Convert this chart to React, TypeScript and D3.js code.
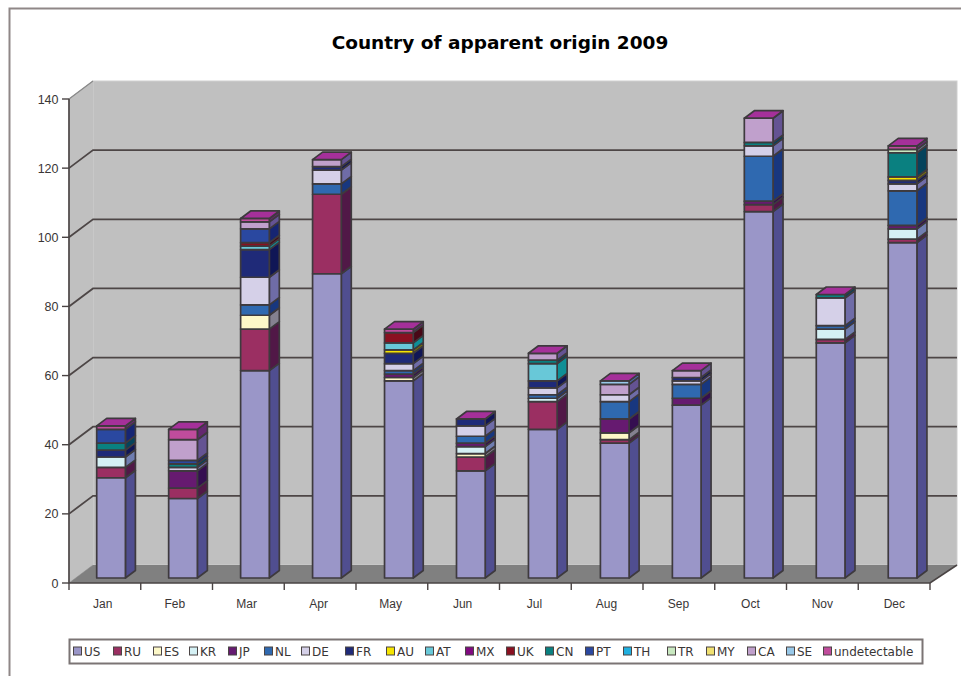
import React from "react";
import * as d3 from "d3";

const months = ["Jan","Feb","Mar","Apr","May","Jun","Jul","Aug","Sep","Oct","Nov","Dec"];
const seriesNames = ["US","RU","ES","KR","JP","NL","DE","FR","AU","AT","MX","UK","CN","PT","TH","TR","MY","CA","SE","undetectable"];

const US = [29,23,60,88,57,31,43,39,50,106,68,97];
const RU = [3,3,12,23,0,4,8,1,0,2,1,1];
const ES = [0,0,4,0,1,1,0,2,0,0,0,0];
const KR = [3,0,0,0,0,2,1,0,0,0,3,3];
const JP = [0,5,0,0,1,1,0,4,2,1,0,1];
const NL = [0,0,3,3,1,2,1,5,4,13,1,10];
const DE = [0,1,8,4,2,3,2,2,1,3,8,2];
const FR = [2,0,8,1,3,2,2,0,1,0,0,1];
const AU = [0,0,0,0,1,0,0,0,0,0,0,1];
const AT = [0,0,1,0,2,0,5,0,0,0,0,0];
const MX = [0,0,0,0,0,0,0,0,0,0,0,0];
const UK = [0,0,1,0,3,0,0,0,0,0,0,0];
const CN = [2,1,0,0,0,0,1,0,0,1,1,7];
const PT = [4,1,4,0,0,0,0,0,0,0,0,0];
const TH = [0,0,0,0,0,0,0,0,0,0,0,0];
const TR = [0,0,0,0,0,0,0,0,0,0,0,1];
const MY = [0,0,0,0,0,0,0,0,0,0,0,0];
const CA = [0,6,2,2,0,0,2,3,2,7,0,0];
const SE = [0,0,0,0,0,0,0,1,0,0,0,0];
const UD = [1,3,1,0,1,0,0,0,0,0,0,1];

const seriesValues = [US,RU,ES,KR,JP,NL,DE,FR,AU,AT,MX,UK,CN,PT,TH,TR,MY,CA,SE,UD];
const seriesColors = ["#9a96c8","#9b2f62","#fdf8c8","#d5f1f5","#661a70","#2f69b0","#d5d0e8","#1f2a78","#f5e400","#68c8d8","#800a80","#8a1020","#0a8080","#2a48a0","#20b0e0","#c8e8c0","#f0e070","#c0a0cc","#98c8e8","#c04c9c"];
const yTicks = [0,20,40,60,80,100,120,140];

// Horizontal start of each legend entry, relative to the first swatch.
const legendOffsets = [0,40,80,116,155,191,228,272,313,352,392,433,472,512,550,594,633,674,713,750];

const FONT = "'Liberation Sans', Arial, sans-serif";
const INK = "#3a3636";
const GRID = "#4d4646";
const DEPTH_X = 24, DEPTH_Y = 18;      // wall/floor perspective offset
const BAR_DX = 10, BAR_DY = 7.5;       // bar depth offset
const BAR_BASE_LIFT = 5;
const BAR_W = 28.7;
const BAR_INSET = 27.9;                // gap from the category's left edge to the bar

const y = d3.scaleLinear().domain([0, 140]).range([583, 99]);
const tickBand = d3.scaleBand<string>().domain(months).range([69, 930]);
const barBand = d3.scaleBand<string>().domain(months).range([68.8, 932.3]);

const stacked = d3.stack<number>()
  .keys(seriesNames.map((_, i) => i) as any)
  .value((i: number, k: any) => seriesValues[k][i])(months.map((_, i) => i));

const poly = (pts: number[][]) => pts.map((p) => p.join(",")).join(" ");
const sideShade = (c: string) => {
  const r = d3.rgb(c);
  return d3.rgb(r.r * 0.52, r.g * 0.52, r.b * 0.72).formatHex();
};
// The AT side face reads as a saturated teal rather than a dim sky blue.
const sideOverrides: Record<string, string> = { AT: "#0f8f96" };
const TOP_FACE = "#a5309a";

function Bar({ month, index }: { month: string; index: number }) {
  const x0 = barBand(month)! + BAR_INSET;
  const x1 = x0 + BAR_W;
  const yy = (v: number) => y(v) - BAR_BASE_LIFT;
  const segs = stacked.map((s, k) => ({ k, a: s[index][0], b: s[index][1] })).filter((s) => s.b > s.a);
  const total = segs[segs.length - 1].b;
  return (
    <g stroke="#3e3a3e" strokeWidth={1.7} strokeLinejoin="round">
      {segs.map((s) => (
        <g key={s.k}>
          <polygon
            points={poly([[x1, yy(s.a)], [x1 + BAR_DX, yy(s.a) - BAR_DY], [x1 + BAR_DX, yy(s.b) - BAR_DY], [x1, yy(s.b)]])}
            fill={sideOverrides[seriesNames[s.k]] ?? sideShade(seriesColors[s.k])}
          />
          <rect x={x0} y={yy(s.b)} width={BAR_W} height={yy(s.a) - yy(s.b)} fill={seriesColors[s.k]} />
        </g>
      ))}
      <polygon
        points={poly([[x0, yy(total)], [x1, yy(total)], [x1 + BAR_DX, yy(total) - BAR_DY], [x0 + BAR_DX, yy(total) - BAR_DY]])}
        fill={TOP_FACE}
      />
    </g>
  );
}

export default function App() {
  const xL = 69, xR = 930, y0 = y(0), yT = y(140);
  return (
    <svg width={961} height={676} style={{ position: "absolute", left: 0, top: 0, background: "#fff" }} fontFamily={FONT}>
      {/* outer frame, open at the right and bottom */}
      <path d="M9.5,676 V8.5 H961" fill="none" stroke="#8f8787" strokeWidth={2} />

      <text x={500} y={48.5} textAnchor="middle" fontSize={18.5} fontWeight="bold" fill="#000" fontFamily="'DejaVu Sans', sans-serif">
        Country of apparent origin 2009
      </text>

      {/* walls and floor */}
      <polygon points={poly([[xL, yT], [xL + DEPTH_X, yT - DEPTH_Y], [xL + DEPTH_X, y0 - DEPTH_Y], [xL, y0]])} fill="#c0c0c0" stroke="#a2a2a2" />
      <rect x={xL + DEPTH_X} y={yT - DEPTH_Y} width={xR + 27 - xL - DEPTH_X} height={y0 - yT} fill="#c0c0c0" stroke="#cfcfcf" />
      <polygon points={poly([[xL, y0], [xL + DEPTH_X, y0 - DEPTH_Y], [xR + 27, y0 - DEPTH_Y], [xR, y0]])} fill="#808080" />

      {/* gridlines along the side wall and back wall */}
      {yTicks.slice(1, -1).map((t) => (
        <path key={t} d={`M${xL},${y(t)} L${xL + DEPTH_X},${y(t) - DEPTH_Y} H${xR + 27}`} fill="none" stroke={GRID} strokeWidth={1.8} />
      ))}
      <path d={`M${xL},${yT} L${xL + DEPTH_X},${yT - DEPTH_Y}`} stroke="#8a8a8a" strokeWidth={1.2} />

      {months.map((m, i) => <Bar key={m} month={m} index={i} />)}

      {/* axes */}
      <path d={`M${xL},${yT} V${y0} H${xR} L${xR + 27},${y0 - DEPTH_Y}`} fill="none" stroke="#4a4444" strokeWidth={1.6} />
      {yTicks.map((t) => (
        <g key={t}>
          <line x1={xL - 7} x2={xL} y1={y(t)} y2={y(t)} stroke="#4a4444" strokeWidth={1.4} />
          <text x={xL - 10.5} y={y(t) + 4.5} textAnchor="end" fontSize={12.5} fill={INK}>{t}</text>
        </g>
      ))}
      {[...months, ""].map((m, i) => (
        <line key={i} x1={xL + i * tickBand.step()} x2={xL + i * tickBand.step()} y1={y0} y2={y0 + 7} stroke="#4a4444" strokeWidth={1.4} />
      ))}
      {months.map((m) => (
        <text key={m} x={barBand(m)! + barBand.bandwidth() / 2 - 2} y={607.5} textAnchor="middle" fontSize={12} fill={INK}>{m}</text>
      ))}

      {/* legend */}
      <rect x={69.5} y={639.5} width={853} height={24} fill="#fff" stroke="#7b7474" strokeWidth={2} />
      {seriesNames.map((name, i) => {
        const lx = 73.5 + legendOffsets[i];
        return (
          <g key={name}>
            <rect x={lx} y={647} width={8} height={8} fill={seriesColors[i]} stroke="#4a4444" strokeWidth={1} />
            <text x={lx + 10.5} y={656} fontSize={12} fill={INK} fontFamily="'DejaVu Sans', sans-serif">{name}</text>
          </g>
        );
      })}
    </svg>
  );
}
